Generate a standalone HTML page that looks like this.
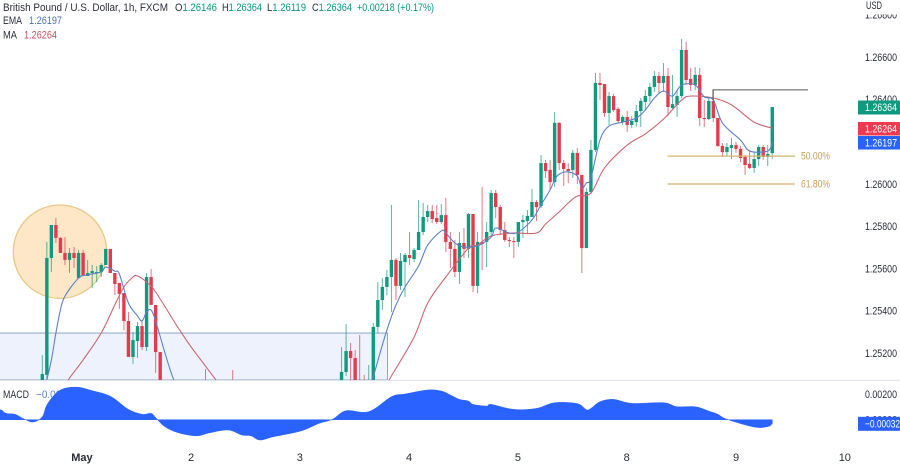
<!DOCTYPE html>
<html><head><meta charset="utf-8"><title>GBP/USD chart</title>
<style>
html,body{margin:0;padding:0;background:#fff;width:900px;height:465px;overflow:hidden}
svg{display:block;filter:blur(0.35px)}
text{font-family:"Liberation Sans",sans-serif;font-size:11px;fill:#2a2e39}
</style></head><body>
<svg id="chart" width="900" height="465" viewBox="0 0 900 465" xmlns="http://www.w3.org/2000/svg">
<defs>
<clipPath id="mainClip"><rect x="0" y="0" width="856" height="380"/></clipPath>
<clipPath id="macdClip"><rect x="0" y="381" width="856" height="60"/></clipPath>
</defs>
<rect width="900" height="465" fill="#fff"/>
<g id="mainPane" clip-path="url(#mainClip)"></g>
<line x1="0" x2="900" y1="380.5" y2="380.5" stroke="#e0e3eb"/>
<text x="3" y="398" textLength="26" lengthAdjust="spacingAndGlyphs">MACD</text>
<text x="36" y="398" fill="#5f83c4" style="fill:#5f83c4" textLength="42" lengthAdjust="spacingAndGlyphs">−0.00032</text>
<g id="macdPane" clip-path="url(#macdClip)"></g>
<g id="priceAxis"></g>
<g id="timeAxis"></g>
<g>
<text x="3" y="11" textLength="165" lengthAdjust="spacingAndGlyphs">British Pound / U.S. Dollar, 1h, FXCM</text>
<text x="175" y="11" textLength="42" lengthAdjust="spacingAndGlyphs">O<tspan style="fill:#089981">1.26146</tspan></text>
<text x="222" y="11" textLength="40" lengthAdjust="spacingAndGlyphs">H<tspan style="fill:#089981">1.26364</tspan></text>
<text x="267" y="11" textLength="39" lengthAdjust="spacingAndGlyphs">L<tspan style="fill:#089981">1.26119</tspan></text>
<text x="312" y="11" textLength="40" lengthAdjust="spacingAndGlyphs">C<tspan style="fill:#089981">1.26364</tspan></text>
<text x="357" y="11" textLength="77" lengthAdjust="spacingAndGlyphs" style="fill:#089981">+0.00218 (+0.17%)</text>
<text x="3" y="24" textLength="19" lengthAdjust="spacingAndGlyphs">EMA</text>
<text x="29" y="24" textLength="33" lengthAdjust="spacingAndGlyphs" style="fill:#4a74b8">1.26197</text>
<text x="3" y="38.500" textLength="14" lengthAdjust="spacingAndGlyphs">MA</text>
<text x="24" y="38.500" textLength="33" lengthAdjust="spacingAndGlyphs" style="fill:#c2505f">1.26264</text>
</g>
</svg>
<script>
// Prices in units of 0.00001 USD
const opens=[125002,125097,125650,125806,125745,125674,125641,125674,125555,125674,
125565,125579,125579,125584,125617,125693,125579,125532,125484,125352,
125182,125257,125328,125229,125560,125428,125205,125002,124955,124988,
124931,124969,124997,124959,124988,125016,125035,125054,125016,124988,
125007,124978,124950,124931,124912,124940,124903,124874,124903,124931,
124893,124922,124950,124978,124940,124969,124997,124959,124988,125016,
125035,125007,125026,125045,125016,125026,125002,125111,125210,125177,
125049,125049,125002,125049,125324,125451,125513,125560,125641,125518,
125631,125664,125645,125688,125773,125844,125872,125839,125820,125853,
125726,125693,125584,125721,125693,125858,125518,125726,125726,125773,
125957,125891,125782,125735,125730,125726,125820,125825,125844,125915,
125896,126099,126066,126009,126289,126099,126071,126066,126147,126043,
125697,125962,126161,126478,126473,126336,126416,126355,126293,126317,
126279,126293,126345,126388,126416,126459,126511,126478,126511,126359,
126374,126416,126634,126497,126468,126516,126312,126307,126393,126312,
126180,126151,126170,126184,126166,126128,126095,126076,126118,126175,
126128,126146];
const highs=[125191,125726,125806,125839,125749,125749,125697,125702,125688,125688,
125641,125617,125612,125626,125693,125693,125579,125532,125484,125395,
125300,125347,125357,125579,125598,125428,125205,125016,125011,125002,
124988,125016,125026,125007,125035,125054,125125,125068,125035,125026,
125026,124997,125120,124959,124959,124959,124922,124931,124950,124950,
124940,124969,124997,124997,124988,125016,125016,125007,125035,125054,
125054,125045,125063,125063,125068,125068,125229,125338,125248,125215,
125286,125097,125144,125343,125536,125555,125593,125901,125650,125674,
125674,125773,125697,125924,125910,125901,125901,125901,125905,125934,
125773,125735,125773,125792,125863,125858,125773,125986,125820,125972,
125972,125901,125820,125749,125749,125820,125853,125877,125976,125924,
126137,126114,126114,126341,126293,126114,126099,126161,126170,126043,
125981,126208,126525,126525,126473,126435,126426,126364,126326,126345,
126322,126374,126407,126445,126478,126534,126530,126572,126549,126516,
126445,126686,126672,126549,126553,126549,126397,126412,126445,126312,
126194,126194,126218,126199,126180,126137,126161,126151,126184,126184,
126184,126364];
const lows=[124978,125063,125584,125721,125674,125617,125579,125603,125555,125565,
125565,125508,125536,125560,125617,125579,125475,125409,125309,125182,
125149,125177,125215,125210,125428,125106,124978,124922,124931,124903,
124912,124950,124940,124931,124969,124997,125016,124997,124969,124959,
124959,124931,124912,124884,124893,124884,124855,124855,124884,124874,
124865,124903,124931,124922,124922,124950,124940,124940,124969,124997,
124988,124988,125007,124997,124997,125007,124988,125092,125073,125002,
124978,124997,124988,125035,125295,125404,125475,125395,125451,125499,
125466,125617,125631,125688,125759,125820,125816,125811,125811,125678,
125603,125560,125527,125650,125650,125489,125484,125593,125607,125754,
125839,125759,125726,125702,125650,125702,125745,125768,125844,125825,
125886,126028,125972,125986,126066,125991,126005,126028,126000,125579,
125697,125953,126151,126397,126317,126279,126341,126289,126279,126246,
126265,126270,126270,126350,126388,126435,126430,126435,126322,126355,
126317,126407,126468,126440,126445,126274,126270,126303,126293,126175,
126128,126132,126118,126147,126104,126043,126071,126052,126085,126114,
126085,126119];
const closes=[125101,125650,125806,125745,125674,125641,125674,125650,125674,125565,
125579,125588,125584,125617,125693,125579,125527,125480,125352,125182,
125262,125328,125229,125560,125428,125205,125002,124955,124988,124931,
124969,124997,124959,124988,125016,125035,125054,125016,124988,125007,
124978,124950,124931,124912,124940,124903,124874,124903,124931,124893,
124922,124950,124978,124940,124969,124997,124959,124988,125016,125035,
125007,125026,125045,125016,125054,125054,125111,125210,125177,125026,
125002,125016,125049,125324,125451,125513,125560,125641,125518,125636,
125664,125650,125688,125773,125844,125872,125834,125820,125853,125726,
125693,125584,125721,125693,125858,125518,125726,125716,125773,125957,
125891,125782,125735,125730,125726,125820,125830,125849,125915,125891,
126099,126061,126009,126289,126099,126071,126061,126147,126043,125697,
125962,126161,126478,126468,126336,126416,126350,126298,126317,126279,
126298,126345,126393,126416,126459,126511,126478,126511,126364,126378,
126416,126634,126492,126468,126516,126312,126307,126393,126312,126180,
126151,126175,126184,126166,126123,126090,126076,126118,126175,126128,
126142,126364];

const emaBars=[1,2,3,4,5,8,10,13,14,16,17,19,21,22,23,24,25,27,29,32,45,60,68,72,73,76,78,80,83,85,88,89,91,93,96,99,100,103,105,108,110,112,113,114,116,118,119,120,121,123,125,128,131,133,135,137,139,141,144,146,148,150,154,156,160,161];
const emaValues=[125073,125168,125295,125404,125470,125555,125570,125584,125607,125588,125574,125437,125376,125352,125395,125404,125352,125205,125073,124931,124789,124836,124884,125002,125087,125309,125428,125513,125612,125711,125778,125768,125721,125702,125707,125749,125792,125768,125773,125830,125901,125972,126019,126047,126057,126038,125981,126005,126028,126208,126274,126293,126312,126350,126407,126440,126416,126468,126468,126412,126397,126289,126208,126156,126156,126197];
const maBars=[5,6,9,13,16,18,20,21,23,25,30,33,38,39,45,60,72,76,77,82,85,89,94,96,99,104,109,111,114,116,118,121,124,129,133,137,141,143,148,152,157,161];
const maValues=[125049,125082,125168,125295,125428,125513,125560,125565,125536,125489,125319,125224,125082,125054,124884,124789,124884,125054,125092,125276,125437,125560,125697,125711,125754,125768,125768,125811,125868,125910,125943,125957,126076,126184,126237,126307,126397,126416,126407,126374,126293,126264];

const macdBars=[-10,-9,-8,-6,-4,-2,0,1,3,5,8,11,14,16,19,22,24,25,27,30,34,37,41,44,46,48,51,57,61,64,67,72,77,80,85,88,90,92,94,95,98,99,104,109,113,118,120,121,123,126,130,137,140,144,147,149,151,157,160,161];
const macdValues=[0.00075,0.00075,0.00049,0.00042,0.00005,-0.00018,0.00023,0.00114,0.00205,0.00244,0.00252,0.00226,0.00197,0.00161,0.0008,0.00042,0.00049,0.00016,-0.00054,-0.00101,-0.00125,-0.00101,-0.0008,-0.00119,-0.00125,-0.00158,-0.00132,-0.00088,-0.00029,0.00003,0.0007,0.00062,0.00179,0.002,0.00231,0.00223,0.00192,0.00158,0.00145,0.00119,0.00106,0.00119,0.0008,0.00088,0.00132,0.00125,0.00078,0.00088,0.0014,0.00158,0.00127,0.00132,0.00101,0.00101,0.00067,0.00042,0.00003,-0.00057,-0.00054,-0.00032];

const priceTicks=[126800,126600,126400,126000,125800,125600,125400,125200];
const priceTickLabels=["1.26800","1.26600","1.26400","1.26000","1.25800","1.25600","1.25400","1.25200"];
const dayBars=[8.75,32.8,56.8,80.9,104.9,128.9,153,177];
const dayLabels=["May","2","3","4","5","8","9","10"];
const fibLevels=[126132,126000];
const fibLabels=["50.00%","61.80%"];
const resistanceLevel=[126445];
const zonePrice=[125295];
const lastPrices=[126364,126264,126197];
const lastPriceLabels=["1.26364","1.26264","1.26197"];
const macdLast=[-0.00032];
const macdLastLabels=["−0.00032"];

const NS="http://www.w3.org/2000/svg";
const GREEN="#0f9a7f",RED="#e23b4c";
function xOf(bar){return 42.3+bar*4.534;}
function yOf(price){return 184-(price-126000)/4.73;}
function macdY(v){return 419.7-v/0.002*25.7;}
function mk(parent,tag,props,text){
  const el=document.createElementNS(NS,tag);
  for(const k in props){el.setAttribute(k,props[k]);}
  if(text!==undefined){el.textContent=text;}
  parent.appendChild(el);
  return el;
}
function curveSegments(bars,values,yFn){
  const pts=bars.map(function(b,i){return [xOf(b),yFn(values[i])];});
  let s="";
  for(let i=0;i<pts.length-1;i++){
    const p0=pts[Math.max(i-1,0)],p1=pts[i],p2=pts[i+1],p3=pts[Math.min(i+2,pts.length-1)];
    const c1x=p1[0]+(p2[0]-p0[0])/6,c1y=p1[1]+(p2[1]-p0[1])/6;
    const c2x=p2[0]-(p3[0]-p1[0])/6,c2y=p2[1]-(p3[1]-p1[1])/6;
    s+=" C"+c1x.toFixed(1)+" "+c1y.toFixed(1)+" "+c2x.toFixed(1)+" "+c2y.toFixed(1)+" "+p2[0].toFixed(1)+" "+p2[1].toFixed(1);
  }
  return s;
}
function linePath(bars,values,yFn){
  return "M"+xOf(bars[0]).toFixed(1)+" "+yFn(values[0]).toFixed(1)+curveSegments(bars,values,yFn);
}

const main=document.getElementById("mainPane");
const zoneY=yOf(zonePrice[0]);
const zone=mk(main,"rect",{x:-1,y:zoneY,width:387.5+1,height:380-zoneY,fill:"#eef2fd",stroke:"#8fa7c9","stroke-width":1});



const circle=mk(main,"circle",{cx:60,cy:251.7,r:46.7,fill:"#fde7c7",stroke:"#e8c582","stroke-width":1.2});



for(let i=0;i<closes.length;i++){
  const up=closes[i]>=opens[i];
  const c=up?GREEN:RED;
  const x=xOf(i);
  const g=mk(main,"g",{});
  
  
  mk(g,"line",{x1:x,x2:x,y1:yOf(highs[i]),y2:yOf(lows[i]),stroke:c,"stroke-width":1,opacity:0.7});
  const top=yOf(Math.max(opens[i],closes[i]));
  const bot=yOf(Math.min(opens[i],closes[i]));
  mk(g,"rect",{x:x-1.7,y:top,width:3.4,height:Math.max(bot-top,1),fill:c});
}

const ma=mk(main,"path",{d:linePath(maBars,maValues,yOf),fill:"none",stroke:"#cb6572","stroke-width":1.1});


const ema=mk(main,"path",{d:linePath(emaBars,emaValues,yOf),fill:"none",stroke:"#5c82c6","stroke-width":1.1});



const resY=yOf(resistanceLevel[0]);
const res=mk(main,"path",{d:"M713 "+(resY+10)+" V"+resY+" H808",fill:"none",stroke:"#555","stroke-width":1});



fibLevels.forEach(function(p,i){
  const y=yOf(p);
  const l=mk(main,"line",{x1:667.5,x2:795,y1:y,y2:y,stroke:"#d5b36f","stroke-width":1.2});
  
  
  const t=mk(main,"text",{x:801,y:y+3.5,textLength:29,lengthAdjust:"spacingAndGlyphs",style:"fill:#c9a15a"},fibLabels[i]);
  
  
});

const macd=document.getElementById("macdPane");
const zeroY=macdY(0);
const macdFirstX=xOf(macdBars[0]).toFixed(1);
const macdLastX=xOf(macdBars[macdBars.length-1]).toFixed(1);
const areaD="M"+macdFirstX+" "+zeroY+" L"+macdFirstX+" "+macdY(macdValues[0]).toFixed(1)+curveSegments(macdBars,macdValues,macdY)+" L"+macdLastX+" "+zeroY+" Z";
const area=mk(macd,"path",{d:areaD,fill:"#2962ff",stroke:"#2962ff","stroke-width":0.5});



const axis=document.getElementById("priceAxis");
priceTicks.forEach(function(p,i){
  const t=mk(axis,"text",{x:865,y:yOf(p)+3.8,textLength:32,lengthAdjust:"spacingAndGlyphs"},priceTickLabels[i]);
  
  
});
const mask=mk(axis,"rect",{x:858,y:0,width:42,height:14.5,fill:"#fff"});


const usd=mk(axis,"text",{x:866,y:9,textLength:16,lengthAdjust:"spacingAndGlyphs"},"USD");



const tagColors=[GREEN,"#ee3a4e","#2962ff"];
const tagTops=[100.5,122,136];
lastPrices.forEach(function(p,i){
  const r=mk(axis,"rect",{x:858,y:tagTops[i],width:42,height:i===0?14:13.5,fill:tagColors[i]});
  
  
  const t=mk(axis,"text",{x:865,y:tagTops[i]+10.5,textLength:32,lengthAdjust:"spacingAndGlyphs",style:"fill:#fff"},lastPriceLabels[i]);
  
  
});

const mt=mk(axis,"text",{x:865,y:macdY(0.002)+3.8,textLength:32,lengthAdjust:"spacingAndGlyphs"},"0.00200");


const mz=mk(axis,"text",{x:865,y:macdY(0)+3.8,textLength:32,lengthAdjust:"spacingAndGlyphs"},"0.00000");


const mr=mk(axis,"rect",{x:858,y:macdY(macdLast[0])-7,width:42,height:14,fill:"#2962ff"});


const mv=mk(axis,"text",{x:865,y:macdY(macdLast[0])+3.8,textLength:35,lengthAdjust:"spacingAndGlyphs",style:"fill:#fff"},macdLastLabels[0]);



const time=document.getElementById("timeAxis");
dayBars.forEach(function(b,i){
  const t=mk(time,"text",{x:xOf(b),y:461,"text-anchor":"middle",style:i===0?"font-weight:bold":""},dayLabels[i]);
  
  
});
</script>
</body></html>
